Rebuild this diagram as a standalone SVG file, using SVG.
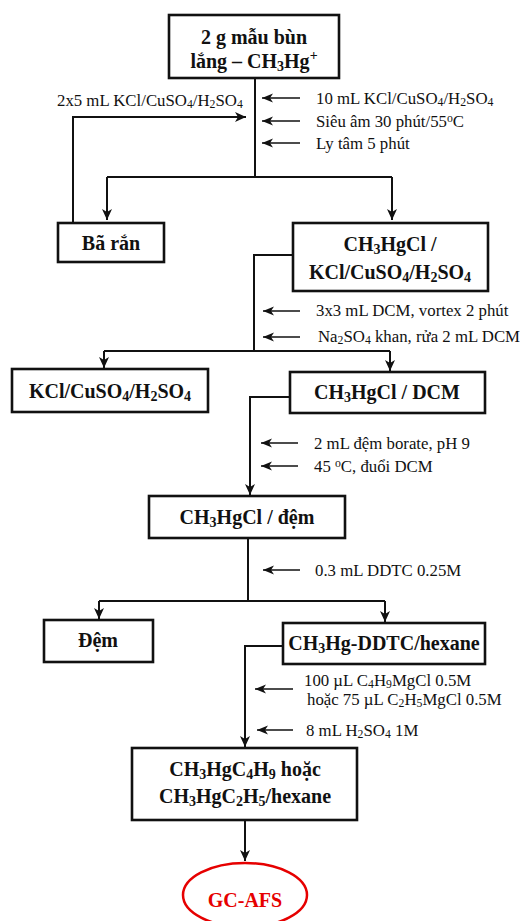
<svg xmlns="http://www.w3.org/2000/svg" width="520" height="921" viewBox="0 0 520 921">
<defs>
<marker id="ah" markerUnits="userSpaceOnUse" markerWidth="12" markerHeight="12" refX="11" refY="6" orient="auto">
<path d="M0,1 L11,6 L0,11 L3,6 z" fill="#111"/>
</marker>
<marker id="sh" markerUnits="userSpaceOnUse" markerWidth="12" markerHeight="10" refX="11" refY="5" orient="auto">
<path d="M0,0.5 L11,5 L0,9.5 L3,5 z" fill="#111"/>
</marker>
</defs>
<style>
.box{fill:#fff;stroke:#111;stroke-width:2.6}
.bt{font-family:"Liberation Serif","Times New Roman",serif;font-weight:bold;font-size:20px;fill:#111;text-anchor:middle}
.lt{font-family:"Liberation Serif","Times New Roman",serif;font-size:16.8px;fill:#111}
.con{fill:none;stroke:#111;stroke-width:2}
.sa{fill:none;stroke:#111;stroke-width:1.3}
.s{font-size:70%}
</style>
<g id="connectors">
<path class="con" d="M255,78 V177"/>
<path class="con" d="M107,177 H392"/>
<path class="con" d="M107,177 V220" marker-end="url(#ah)"/>
<path class="con" d="M392,177 V220" marker-end="url(#ah)"/>
<path class="con" d="M73,222 V117 H246" marker-end="url(#ah)"/>
<path class="sa" d="M300,98 H262" marker-end="url(#sh)"/>
<path class="sa" d="M300,121 H262" marker-end="url(#sh)"/>
<path class="sa" d="M300,143 H262" marker-end="url(#sh)"/>
<path class="con" d="M293,255 H254 V351"/>
<path class="con" d="M104,351 H390"/>
<path class="con" d="M104,351 V368" marker-end="url(#ah)"/>
<path class="con" d="M390,351 V371" marker-end="url(#ah)"/>
<path class="sa" d="M300,311 H263" marker-end="url(#sh)"/>
<path class="sa" d="M300,337 H263" marker-end="url(#sh)"/>
<path class="con" d="M290,397 H250 V495" marker-end="url(#ah)"/>
<path class="sa" d="M298,443 H261" marker-end="url(#sh)"/>
<path class="sa" d="M298,466 H261" marker-end="url(#sh)"/>
<path class="con" d="M248,538 V601"/>
<path class="con" d="M99,601 H385"/>
<path class="con" d="M99,601 V619" marker-end="url(#ah)"/>
<path class="con" d="M385,601 V622" marker-end="url(#ah)"/>
<path class="sa" d="M300,570 H263" marker-end="url(#sh)"/>
<path class="con" d="M283,646 H245 V747" marker-end="url(#ah)"/>
<path class="sa" d="M293,689 H255" marker-end="url(#sh)"/>
<path class="sa" d="M293,730 H257" marker-end="url(#sh)"/>
<path class="con" d="M245,820 V861" marker-end="url(#ah)"/>
</g>
<g id="labels">
<text class="lt" x="316" y="104">10 mL KCl/CuSO<tspan class="s" dy="2">4</tspan><tspan dy="-2">/H</tspan><tspan class="s" dy="2">2</tspan><tspan dy="-2">SO</tspan><tspan class="s" dy="2">4</tspan></text>
<text class="lt" x="316" y="127">Siêu âm 30 phút/55<tspan class="s" dy="-5">o</tspan><tspan dy="5">C</tspan></text>
<text class="lt" x="316" y="149">Ly tâm 5 phút</text>
<text class="lt" x="57" y="106">2x5 mL KCl/CuSO<tspan class="s" dy="2">4</tspan><tspan dy="-2">/H</tspan><tspan class="s" dy="2">2</tspan><tspan dy="-2">SO</tspan><tspan class="s" dy="2">4</tspan></text>
<text class="lt" x="316" y="316">3x3 mL DCM, vortex 2 phút</text>
<text class="lt" x="318" y="342">Na<tspan class="s" dy="2">2</tspan><tspan dy="-2">SO</tspan><tspan class="s" dy="2">4</tspan><tspan dy="-2"> khan, rửa 2 mL DCM</tspan></text>
<text class="lt" x="314" y="449">2 mL đệm borate, pH 9</text>
<text class="lt" x="314" y="472">45 <tspan class="s" dy="-5">o</tspan><tspan dy="5">C, đuổi DCM</tspan></text>
<text class="lt" x="315" y="576">0.3 mL DDTC 0.25M</text>
<text class="lt" x="304" y="686">100 µL C<tspan class="s" dy="2">4</tspan><tspan dy="-2">H</tspan><tspan class="s" dy="2">9</tspan><tspan dy="-2">MgCl 0.5M</tspan></text>
<text class="lt" x="307" y="705">hoặc 75 µL C<tspan class="s" dy="2">2</tspan><tspan dy="-2">H</tspan><tspan class="s" dy="2">5</tspan><tspan dy="-2">MgCl 0.5M</tspan></text>
<text class="lt" x="306" y="736">8 mL H<tspan class="s" dy="2">2</tspan><tspan dy="-2">SO</tspan><tspan class="s" dy="2">4</tspan><tspan dy="-2"> 1M</tspan></text>
</g>
<g id="n1">
<rect class="box" x="169" y="15" width="170" height="63"/>
<text class="bt" x="254" y="44">2 g mẫu bùn</text>
<text class="bt" x="254" y="68">lắng – CH<tspan class="s" dy="3">3</tspan><tspan dy="-3">Hg</tspan><tspan class="s" dy="-8">+</tspan></text>
</g>
<g id="n2">
<rect class="box" x="58" y="223" width="106" height="39"/>
<text class="bt" x="111" y="250">Bã rắn</text>
</g>
<g id="n3">
<rect class="box" x="293" y="223" width="195" height="68"/>
<text class="bt" x="390" y="251">CH<tspan class="s" dy="3">3</tspan><tspan dy="-3">HgCl /</tspan></text>
<text class="bt" x="390" y="279">KCl/CuSO<tspan class="s" dy="3">4</tspan><tspan dy="-3">/H</tspan><tspan class="s" dy="3">2</tspan><tspan dy="-3">SO</tspan><tspan class="s" dy="3">4</tspan></text>
</g>
<g id="n4">
<rect class="box" x="12" y="369" width="196" height="43"/>
<text class="bt" x="110" y="398">KCl/CuSO<tspan class="s" dy="3">4</tspan><tspan dy="-3">/H</tspan><tspan class="s" dy="3">2</tspan><tspan dy="-3">SO</tspan><tspan class="s" dy="3">4</tspan></text>
</g>
<g id="n5">
<rect class="box" x="290" y="372" width="195" height="41"/>
<text class="bt" x="387" y="399">CH<tspan class="s" dy="3">3</tspan><tspan dy="-3">HgCl / DCM</tspan></text>
</g>
<g id="n6">
<rect class="box" x="149" y="496" width="196" height="42"/>
<text class="bt" x="247" y="524">CH<tspan class="s" dy="3">3</tspan><tspan dy="-3">HgCl / đệm</tspan></text>
</g>
<g id="n7">
<rect class="box" x="44" y="620" width="109" height="42"/>
<text class="bt" x="98" y="647">Đệm</text>
</g>
<g id="n8">
<rect class="box" x="283" y="623" width="202" height="41"/>
<text class="bt" x="384" y="650">CH<tspan class="s" dy="3">3</tspan><tspan dy="-3">Hg-DDTC/hexane</tspan></text>
</g>
<g id="n9">
<rect class="box" x="132" y="748" width="225" height="72"/>
<text class="bt" x="245" y="776">CH<tspan class="s" dy="3">3</tspan><tspan dy="-3">HgC</tspan><tspan class="s" dy="3">4</tspan><tspan dy="-3">H</tspan><tspan class="s" dy="3">9</tspan><tspan dy="-3"> hoặc</tspan></text>
<text class="bt" x="245" y="803">CH<tspan class="s" dy="3">3</tspan><tspan dy="-3">HgC</tspan><tspan class="s" dy="3">2</tspan><tspan dy="-3">H</tspan><tspan class="s" dy="3">5</tspan><tspan dy="-3">/hexane</tspan></text>
</g>
<g id="n10">
<ellipse cx="245" cy="895" rx="62" ry="32" fill="#fff" stroke="#e60000" stroke-width="2.5"/>
<text class="bt" x="245" y="907" style="fill:#e60000">GC-AFS</text>
</g>
</svg>
